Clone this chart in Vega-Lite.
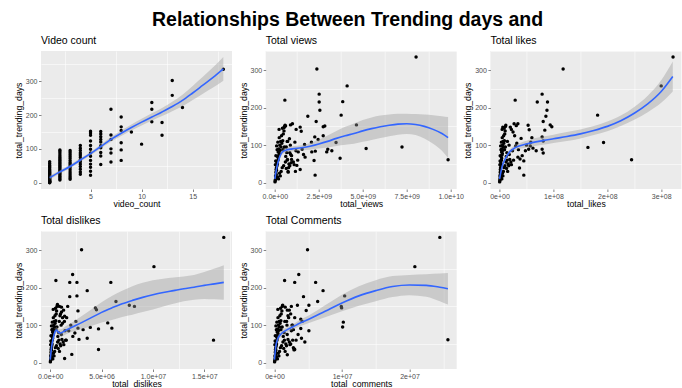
{
"$schema": "https://vega.github.io/schema/vega-lite/v6.json",
"background": "white",
"padding": {"left": 14, "top": 10, "right": 5, "bottom": 5},
"title": {"text": "Relationships Between Trending days and", "fontSize": 19.5, "fontWeight": "bold", "anchor": "start", "frame": "group", "dx": 111, "offset": 5, "font": "Liberation Sans", "color": "black"},
"columns": 3,
"spacing": {"row": 42, "column": 33.7},
"bounds": "flush",
"datasets": {
"p1": [
{"x":1,"y":0},{"x":1,"y":1},{"x":1,"y":2},{"x":1,"y":3},{"x":1,"y":4},{"x":1,"y":5},{"x":1,"y":6},{"x":1,"y":8},{"x":1,"y":10},{"x":1,"y":12},{"x":1,"y":14},{"x":1,"y":16},{"x":1,"y":18},{"x":1,"y":20},{"x":1,"y":22},{"x":1,"y":25},{"x":1,"y":28},{"x":1,"y":30},{"x":1,"y":33},{"x":1,"y":36},{"x":1,"y":40},{"x":1,"y":44},{"x":1,"y":48},{"x":1,"y":52},{"x":1,"y":57},{"x":1,"y":62},
{"x":2,"y":8},{"x":2,"y":12},{"x":2,"y":16},{"x":2,"y":20},{"x":2,"y":24},{"x":2,"y":28},{"x":2,"y":32},{"x":2,"y":36},{"x":2,"y":40},{"x":2,"y":44},{"x":2,"y":48},{"x":2,"y":52},{"x":2,"y":56},{"x":2,"y":60},{"x":2,"y":64},{"x":2,"y":68},{"x":2,"y":72},{"x":2,"y":77},{"x":2,"y":82},{"x":2,"y":88},{"x":2,"y":93},{"x":2,"y":97},
{"x":3,"y":10},{"x":3,"y":15},{"x":3,"y":20},{"x":3,"y":26},{"x":3,"y":32},{"x":3,"y":38},{"x":3,"y":44},{"x":3,"y":50},{"x":3,"y":55},{"x":3,"y":60},{"x":3,"y":66},{"x":3,"y":72},{"x":3,"y":78},{"x":3,"y":84},{"x":3,"y":90},{"x":3,"y":95},
{"x":4,"y":25},{"x":4,"y":32},{"x":4,"y":40},{"x":4,"y":48},{"x":4,"y":55},{"x":4,"y":62},{"x":4,"y":68},{"x":4,"y":75},{"x":4,"y":82},{"x":4,"y":88},{"x":4,"y":95},{"x":4,"y":102},{"x":4,"y":110},
{"x":5,"y":22},{"x":5,"y":34},{"x":5,"y":46},{"x":5,"y":55},{"x":5,"y":66},{"x":5,"y":78},{"x":5,"y":88},{"x":5,"y":99},{"x":5,"y":110},{"x":5,"y":123},{"x":5,"y":140},{"x":5,"y":147},{"x":5,"y":152},
{"x":6,"y":54},{"x":6,"y":79},{"x":6,"y":89},{"x":6,"y":103},{"x":6,"y":109},{"x":6,"y":120},{"x":6,"y":128},{"x":6,"y":136},{"x":6,"y":144},{"x":6,"y":151},
{"x":7,"y":61},{"x":7,"y":88},{"x":7,"y":100},{"x":7,"y":128},{"x":7,"y":141},{"x":7,"y":217},
{"x":8,"y":66},{"x":8,"y":97},{"x":8,"y":118},{"x":8,"y":154},{"x":8,"y":165},{"x":8,"y":194},
{"x":9,"y":150},{"x":10,"y":114},{"x":11,"y":180},{"x":11,"y":217},{"x":11,"y":237},{"x":12,"y":140},{"x":12,"y":178},{"x":13,"y":258},{"x":13,"y":302},{"x":14,"y":222},{"x":18,"y":335}
],
"s1": [
{"x":1,"fit":15,"lo":9,"hi":21},{"x":2,"fit":32,"lo":27,"hi":37},{"x":3,"fit":48,"lo":43,"hi":53},{"x":4,"fit":67,"lo":62,"hi":72},{"x":5,"fit":86,"lo":81,"hi":91},{"x":6,"fit":107,"lo":101,"hi":113},{"x":7,"fit":128,"lo":121,"hi":135},{"x":8,"fit":146,"lo":138,"hi":154},{"x":9,"fit":163,"lo":154,"hi":172},{"x":10,"fit":179,"lo":169,"hi":189},{"x":11,"fit":194,"lo":183,"hi":205},{"x":12,"fit":209,"lo":197,"hi":221},{"x":13,"fit":225,"lo":211,"hi":239},{"x":14,"fit":243,"lo":226,"hi":260},{"x":15,"fit":265,"lo":244,"hi":286},{"x":16,"fit":288,"lo":263,"hi":313},{"x":17,"fit":311,"lo":281,"hi":341},{"x":18,"fit":336,"lo":301,"hi":371}
],
"p2": [
{"x":0.1e8,"y":2},{"x":0.2e8,"y":5},{"x":0.3e8,"y":8},{"x":0.5e8,"y":12},{"x":0.4e8,"y":18},{"x":0.8e8,"y":22},{"x":0.6e8,"y":28},{"x":1.0e8,"y":33},{"x":0.9e8,"y":40},{"x":1.2e8,"y":45},{"x":1.5e8,"y":50},{"x":1.1e8,"y":55},{"x":1.8e8,"y":60},{"x":2.0e8,"y":65},{"x":1.4e8,"y":70},{"x":2.3e8,"y":74},{"x":2.6e8,"y":78},{"x":1.9e8,"y":82},{"x":3.0e8,"y":86},{"x":2.2e8,"y":90},{"x":3.5e8,"y":95},{"x":2.8e8,"y":100},{"x":4.0e8,"y":105},{"x":3.3e8,"y":110},{"x":4.5e8,"y":112},{"x":1.7e8,"y":108},{"x":2.5e8,"y":120},{"x":3.8e8,"y":125},{"x":4.8e8,"y":130},{"x":5.2e8,"y":138},{"x":4.3e8,"y":145},{"x":5.5e8,"y":150},{"x":5.8e8,"y":153},{"x":0.7e8,"y":35},{"x":1.6e8,"y":15},{"x":2.7e8,"y":25},{"x":3.6e8,"y":30},{"x":4.2e8,"y":40},{"x":5.0e8,"y":45},{"x":6.0e8,"y":55},{"x":6.5e8,"y":38},{"x":7.0e8,"y":60},{"x":7.5e8,"y":30},{"x":8.0e8,"y":50},{"x":3.1e8,"y":18},{"x":2.1e8,"y":10},{"x":0.3e8,"y":48},{"x":0.5e8,"y":58},{"x":0.6e8,"y":72},{"x":1.3e8,"y":88},{"x":1.0e8,"y":98},{"x":2.4e8,"y":142},{"x":6.2e8,"y":70},{"x":6.8e8,"y":80},{"x":4.6e8,"y":88},{"x":5.4e8,"y":95},{"x":7.3e8,"y":110},{"x":8.5e8,"y":45},{"x":9.0e8,"y":75},{"x":9.5e8,"y":62},{"x":10.5e8,"y":55},{"x":11e8,"y":48},{"x":12e8,"y":85},{"x":13e8,"y":60},{"x":8.8e8,"y":100},{"x":6.5e8,"y":95},{"x":7.2e8,"y":62},{"x":8.5e8,"y":80},{"x":9.5e8,"y":72},{"x":7.0e8,"y":110},{"x":7.8e8,"y":40},
{"x":8.03e9,"y":335},{"x":2.39e9,"y":303},{"x":2.52e9,"y":236},{"x":2.52e9,"y":215},{"x":2.56e9,"y":193},{"x":4.11e9,"y":258},{"x":3.86e9,"y":216},{"x":3.77e9,"y":180},{"x":0.57e9,"y":220},{"x":1.875e9,"y":177},{"x":2.35e9,"y":163},{"x":2.75e9,"y":149},{"x":2.84e9,"y":151},{"x":4.64e9,"y":154},{"x":3.71e9,"y":65},{"x":5.19e9,"y":91},{"x":7.23e9,"y":95},{"x":9.85e9,"y":61},{"x":2.29e9,"y":20},{"x":2.23e9,"y":59},{"x":3.48e9,"y":107},{"x":3.24e9,"y":85},{"x":2.95e9,"y":82},{"x":3.01e9,"y":89},{"x":1.44e9,"y":148},{"x":1.5e9,"y":137},{"x":1.21e9,"y":142},{"x":1.0e9,"y":157},{"x":0.89e9,"y":154},{"x":0.61e9,"y":151},{"x":0.53e9,"y":147},{"x":0.83e9,"y":117},{"x":1.69e9,"y":102},{"x":1.14e9,"y":108},{"x":1.55e9,"y":89},{"x":1.33e9,"y":82},{"x":1.63e9,"y":75},{"x":1.72e9,"y":68},{"x":1.25e9,"y":46},{"x":1.44e9,"y":35},{"x":1.17e9,"y":30},{"x":0.93e9,"y":53},{"x":0.76e9,"y":28},{"x":2.27e9,"y":122},{"x":2.08e9,"y":108},{"x":2.1e9,"y":82},{"x":2.3e9,"y":84},{"x":2.75e9,"y":125},{"x":2.46e9,"y":115}
],
"s2": [
{"x":0,"fit":10,"lo":4,"hi":16},{"x":0.1e9,"fit":38,"lo":32,"hi":44},{"x":0.25e9,"fit":65,"lo":59,"hi":71},{"x":0.4e9,"fit":80,"lo":74,"hi":86},{"x":0.6e9,"fit":86,"lo":80,"hi":92},{"x":1.0e9,"fit":90,"lo":83,"hi":97},{"x":1.5e9,"fit":93,"lo":86,"hi":100},{"x":2.0e9,"fit":97,"lo":88,"hi":106},{"x":2.5e9,"fit":103,"lo":91,"hi":115},{"x":3.0e9,"fit":110,"lo":94,"hi":126},{"x":3.5e9,"fit":118,"lo":98,"hi":138},{"x":4.0e9,"fit":125,"lo":101,"hi":149},{"x":4.5e9,"fit":131,"lo":104,"hi":158},{"x":5.0e9,"fit":138,"lo":109,"hi":167},{"x":5.5e9,"fit":144,"lo":114,"hi":174},{"x":6.0e9,"fit":149,"lo":119,"hi":179},{"x":6.5e9,"fit":153,"lo":124,"hi":182},{"x":7.0e9,"fit":156,"lo":128,"hi":184},{"x":7.5e9,"fit":157,"lo":130,"hi":184},{"x":8.0e9,"fit":155,"lo":127,"hi":183},{"x":8.5e9,"fit":150,"lo":118,"hi":182},{"x":9.0e9,"fit":142,"lo":104,"hi":180},{"x":9.5e9,"fit":131,"lo":85,"hi":177},{"x":9.85e9,"fit":120,"lo":66,"hi":175}
],
"p3": [
{"x":0.2e6,"y":2},{"x":0.5e6,"y":5},{"x":0.8e6,"y":8},{"x":1e6,"y":12},{"x":0.7e6,"y":18},{"x":1.5e6,"y":22},{"x":1.2e6,"y":28},{"x":2e6,"y":33},{"x":1.8e6,"y":40},{"x":2.5e6,"y":45},{"x":3e6,"y":50},{"x":2.2e6,"y":55},{"x":3.5e6,"y":60},{"x":4e6,"y":65},{"x":2.8e6,"y":70},{"x":4.6e6,"y":74},{"x":5.2e6,"y":78},{"x":3.8e6,"y":82},{"x":6e6,"y":86},{"x":4.4e6,"y":90},{"x":7e6,"y":95},{"x":5.6e6,"y":100},{"x":8e6,"y":105},{"x":6.6e6,"y":110},{"x":9e6,"y":112},{"x":3.4e6,"y":108},{"x":5e6,"y":120},{"x":7.6e6,"y":125},{"x":9.6e6,"y":130},{"x":10.4e6,"y":138},{"x":8.6e6,"y":145},{"x":11e6,"y":150},{"x":11.6e6,"y":153},{"x":1.4e6,"y":35},{"x":3.2e6,"y":15},{"x":5.4e6,"y":25},{"x":7.2e6,"y":30},{"x":8.4e6,"y":40},{"x":10e6,"y":45},{"x":12e6,"y":55},{"x":13e6,"y":38},{"x":14e6,"y":60},{"x":15e6,"y":30},{"x":16e6,"y":50},{"x":6.2e6,"y":18},{"x":4.2e6,"y":10},{"x":0.6e6,"y":48},{"x":1e6,"y":58},{"x":1.2e6,"y":72},{"x":2.6e6,"y":88},{"x":2e6,"y":98},{"x":4.8e6,"y":142},{"x":12.4e6,"y":70},{"x":13.6e6,"y":80},{"x":9.2e6,"y":88},{"x":10.8e6,"y":95},{"x":14.6e6,"y":110},{"x":17e6,"y":45},{"x":18e6,"y":75},{"x":19e6,"y":62},{"x":21e6,"y":55},{"x":22e6,"y":48},{"x":24e6,"y":85},{"x":26e6,"y":60},{"x":17.6e6,"y":100},
{"x":3.22e8,"y":335},{"x":3.0e8,"y":258},{"x":1.18e8,"y":303},{"x":0.79e8,"y":236},{"x":0.70e8,"y":215},{"x":0.89e8,"y":215},{"x":0.88e8,"y":193},{"x":0.86e8,"y":177},{"x":0.81e8,"y":163},{"x":1.82e8,"y":180},{"x":1.93e8,"y":107},{"x":1.64e8,"y":94},{"x":2.45e8,"y":61},{"x":0.29e8,"y":220},{"x":0.94e8,"y":154},{"x":0.97e8,"y":149},{"x":0.84e8,"y":140},{"x":0.79e8,"y":122},{"x":0.81e8,"y":111},{"x":0.68e8,"y":85},{"x":0.79e8,"y":89},{"x":0.81e8,"y":79},{"x":0.58e8,"y":108},{"x":0.57e8,"y":98},{"x":0.54e8,"y":89},{"x":0.45e8,"y":20},{"x":0.37e8,"y":39},{"x":0.53e8,"y":153},{"x":0.55e8,"y":141},{"x":0.27e8,"y":157},{"x":0.34e8,"y":157},{"x":0.2e8,"y":148},{"x":0.06e8,"y":148},{"x":0.3e8,"y":98},{"x":0.34e8,"y":68},{"x":0.38e8,"y":63},{"x":0.42e8,"y":72},{"x":0.45e8,"y":58},{"x":0.35e8,"y":88},{"x":0.32e8,"y":105},{"x":0.4e8,"y":118},{"x":0.28e8,"y":125},{"x":0.25e8,"y":135},{"x":0.22e8,"y":142},{"x":0.31e8,"y":152},{"x":0.6e8,"y":120},{"x":0.5e8,"y":100},{"x":0.48e8,"y":85},{"x":0.62e8,"y":92}
],
"s3": [
{"x":0,"fit":10,"lo":4,"hi":16},{"x":0.05e8,"fit":44,"lo":38,"hi":50},{"x":0.1e8,"fit":62,"lo":56,"hi":68},{"x":0.2e8,"fit":84,"lo":78,"hi":90},{"x":0.3e8,"fit":94,"lo":87,"hi":101},{"x":0.5e8,"fit":103,"lo":94,"hi":112},{"x":0.8e8,"fit":112,"lo":101,"hi":123},{"x":1.0e8,"fit":117,"lo":106,"hi":128},{"x":1.25e8,"fit":123,"lo":111,"hi":135},{"x":1.5e8,"fit":130,"lo":118,"hi":142},{"x":1.75e8,"fit":139,"lo":127,"hi":151},{"x":2.0e8,"fit":150,"lo":137,"hi":163},{"x":2.25e8,"fit":165,"lo":151,"hi":179},{"x":2.5e8,"fit":185,"lo":168,"hi":202},{"x":2.75e8,"fit":210,"lo":188,"hi":232},{"x":3.0e8,"fit":243,"lo":213,"hi":273},{"x":3.215e8,"fit":283,"lo":243,"hi":323}
],
"p4": [
{"x":0.1e5,"y":2},{"x":0.3e5,"y":5},{"x":0.5e5,"y":8},{"x":0.6e5,"y":12},{"x":0.4e5,"y":18},{"x":0.9e5,"y":22},{"x":0.7e5,"y":28},{"x":1.2e5,"y":33},{"x":1.1e5,"y":40},{"x":1.5e5,"y":45},{"x":1.8e5,"y":50},{"x":1.3e5,"y":55},{"x":2.1e5,"y":60},{"x":2.4e5,"y":65},{"x":1.7e5,"y":70},{"x":2.8e5,"y":74},{"x":3.1e5,"y":78},{"x":2.3e5,"y":82},{"x":3.6e5,"y":86},{"x":2.6e5,"y":90},{"x":4.2e5,"y":95},{"x":3.4e5,"y":100},{"x":4.8e5,"y":105},{"x":4.0e5,"y":110},{"x":5.4e5,"y":112},{"x":2e5,"y":108},{"x":3e5,"y":120},{"x":4.6e5,"y":125},{"x":5.8e5,"y":130},{"x":6.2e5,"y":138},{"x":5.2e5,"y":145},{"x":6.6e5,"y":150},{"x":7e5,"y":153},{"x":0.8e5,"y":35},{"x":1.9e5,"y":15},{"x":3.2e5,"y":25},{"x":4.3e5,"y":30},{"x":5e5,"y":40},{"x":6e5,"y":45},{"x":7.2e5,"y":55},{"x":7.8e5,"y":38},{"x":8.4e5,"y":60},{"x":9e5,"y":30},{"x":9.6e5,"y":50},{"x":3.7e5,"y":18},{"x":2.5e5,"y":10},{"x":0.4e5,"y":48},{"x":0.6e5,"y":58},{"x":0.7e5,"y":72},{"x":1.6e5,"y":88},{"x":1.2e5,"y":98},{"x":2.9e5,"y":142},{"x":7.4e5,"y":70},{"x":8.2e5,"y":80},{"x":5.5e5,"y":88},{"x":6.5e5,"y":95},{"x":8.8e5,"y":110},{"x":10.2e5,"y":45},{"x":10.8e5,"y":75},{"x":11.4e5,"y":62},{"x":12.6e5,"y":55},{"x":13.2e5,"y":48},{"x":14.4e5,"y":85},{"x":15.6e5,"y":60},{"x":10.6e5,"y":100},{"x":12e5,"y":120},{"x":13.8e5,"y":110},{"x":11e5,"y":135},{"x":9.5e5,"y":125},
{"x":16.9e6,"y":334},{"x":15.9e6,"y":60},{"x":10.1e6,"y":256},{"x":3.05e6,"y":301},{"x":0.55e6,"y":219},{"x":2.18e6,"y":235},{"x":1.9e6,"y":214},{"x":2.6e6,"y":214},{"x":1.9e6,"y":176},{"x":2.6e6,"y":178},{"x":3.6e6,"y":192},{"x":5.9e6,"y":214},{"x":6.4e6,"y":163},{"x":7.7e6,"y":153},{"x":8.2e6,"y":150},{"x":4.4e6,"y":146},{"x":4.5e6,"y":141},{"x":5.6e6,"y":106},{"x":6.0e6,"y":92},{"x":4.7e6,"y":90},{"x":4.7e6,"y":35},{"x":3.9e6,"y":94},{"x":3.6e6,"y":65},{"x":2.8e6,"y":62},{"x":2.1e6,"y":22},{"x":1.4e6,"y":11},{"x":2.4e6,"y":79},{"x":2.7e6,"y":92},{"x":1.7e6,"y":150},{"x":1.4e6,"y":124},{"x":2.7e6,"y":138},{"x":1.1e6,"y":148},{"x":1.6e6,"y":120},{"x":2.0e6,"y":100},{"x":1.2e6,"y":105},{"x":1.8e6,"y":85},{"x":2.2e6,"y":70},{"x":1.5e6,"y":60},{"x":3.2e6,"y":88},{"x":2.5e6,"y":110},{"x":1.3e6,"y":140},{"x":0.9e6,"y":150},{"x":0.7e6,"y":155},{"x":1.0e6,"y":130}
],
"s4": [
{"x":0,"fit":8,"lo":0,"hi":16},{"x":0.15e6,"fit":45,"lo":37,"hi":53},{"x":0.3e6,"fit":66,"lo":58,"hi":74},{"x":0.5e6,"fit":84,"lo":76,"hi":92},{"x":0.6e6,"fit":87,"lo":79,"hi":95},{"x":0.8e6,"fit":81,"lo":72,"hi":90},{"x":1.0e6,"fit":79,"lo":69,"hi":89},{"x":1.5e6,"fit":86,"lo":75,"hi":97},{"x":2.0e6,"fit":93,"lo":81,"hi":105},{"x":3.0e6,"fit":106,"lo":89,"hi":123},{"x":4.0e6,"fit":120,"lo":98,"hi":142},{"x":5.0e6,"fit":134,"lo":107,"hi":161},{"x":6.0e6,"fit":146,"lo":114,"hi":178},{"x":7.0e6,"fit":157,"lo":122,"hi":192},{"x":8.0e6,"fit":166,"lo":128,"hi":204},{"x":9.0e6,"fit":174,"lo":135,"hi":213},{"x":10.0e6,"fit":181,"lo":142,"hi":220},{"x":11e6,"fit":187,"lo":150,"hi":224},{"x":12e6,"fit":192,"lo":157,"hi":227},{"x":13e6,"fit":197,"lo":164,"hi":230},{"x":14e6,"fit":201,"lo":168,"hi":234},{"x":15e6,"fit":206,"lo":170,"hi":242},{"x":16e6,"fit":210,"lo":169,"hi":251},{"x":16.9e6,"fit":214,"lo":168,"hi":260}
],
"p5": [
{"x":0.2e5,"y":2},{"x":0.5e5,"y":5},{"x":0.8e5,"y":8},{"x":1e5,"y":12},{"x":0.7e5,"y":18},{"x":1.6e5,"y":22},{"x":1.2e5,"y":28},{"x":2.1e5,"y":33},{"x":1.9e5,"y":40},{"x":2.6e5,"y":45},{"x":3.1e5,"y":50},{"x":2.3e5,"y":55},{"x":3.7e5,"y":60},{"x":4.2e5,"y":65},{"x":2.9e5,"y":70},{"x":4.9e5,"y":74},{"x":5.4e5,"y":78},{"x":4e5,"y":82},{"x":6.3e5,"y":86},{"x":4.6e5,"y":90},{"x":7.4e5,"y":95},{"x":5.9e5,"y":100},{"x":8.4e5,"y":105},{"x":7e5,"y":110},{"x":9.5e5,"y":112},{"x":3.5e5,"y":108},{"x":5.2e5,"y":120},{"x":8e5,"y":125},{"x":10e5,"y":130},{"x":11e5,"y":138},{"x":9.1e5,"y":145},{"x":11.6e5,"y":150},{"x":12.2e5,"y":153},{"x":1.4e5,"y":35},{"x":3.3e5,"y":15},{"x":5.6e5,"y":25},{"x":7.5e5,"y":30},{"x":8.8e5,"y":40},{"x":10.5e5,"y":45},{"x":12.6e5,"y":55},{"x":13.7e5,"y":38},{"x":14.7e5,"y":60},{"x":15.8e5,"y":30},{"x":16.8e5,"y":50},{"x":6.5e5,"y":18},{"x":4.4e5,"y":10},{"x":0.6e5,"y":48},{"x":1e5,"y":58},{"x":1.2e5,"y":72},{"x":2.8e5,"y":88},{"x":2.1e5,"y":98},{"x":5e5,"y":142},{"x":13e5,"y":70},{"x":14.3e5,"y":80},{"x":9.6e5,"y":88},{"x":11.4e5,"y":95},{"x":15.3e5,"y":110},{"x":17.8e5,"y":45},{"x":18.9e5,"y":75},{"x":20e5,"y":62},{"x":22e5,"y":55},{"x":23e5,"y":48},{"x":25e5,"y":85},{"x":27e5,"y":60},{"x":18.5e5,"y":100},{"x":21e5,"y":120},{"x":24e5,"y":130},{"x":19e5,"y":140},{"x":26e5,"y":100},{"x":28e5,"y":40},{"x":30e5,"y":35},
{"x":2.45e7,"y":334},{"x":2.57e7,"y":61},{"x":2.08e7,"y":256},{"x":0.49e7,"y":301},{"x":0.15e7,"y":219},{"x":0.36e7,"y":235},{"x":0.30e7,"y":214},{"x":0.61e7,"y":214},{"x":0.72e7,"y":192},{"x":0.43e7,"y":176},{"x":0.64e7,"y":163},{"x":0.51e7,"y":153},{"x":0.34e7,"y":153},{"x":0.47e7,"y":139},{"x":1.04e7,"y":178},{"x":0.99e7,"y":150},{"x":0.995e7,"y":146},{"x":1.02e7,"y":108},{"x":1.01e7,"y":95},{"x":0.51e7,"y":85},{"x":0.39e7,"y":116},{"x":0.41e7,"y":110},{"x":0.39e7,"y":91},{"x":0.29e7,"y":37},{"x":0.29e7,"y":34},{"x":0.19e7,"y":21},{"x":0.25e7,"y":150},{"x":0.22e7,"y":140},{"x":0.2e7,"y":125},{"x":0.3e7,"y":120},{"x":0.27e7,"y":100},{"x":0.35e7,"y":75},{"x":0.32e7,"y":60},{"x":0.24e7,"y":50},{"x":0.4e7,"y":65},{"x":0.45e7,"y":55},{"x":0.18e7,"y":110},{"x":0.16e7,"y":148},{"x":0.12e7,"y":152},{"x":0.28e7,"y":88}
],
"s5": [
{"x":0,"fit":8,"lo":0,"hi":16},{"x":0.2e6,"fit":44,"lo":36,"hi":52},{"x":0.45e6,"fit":62,"lo":55,"hi":69},{"x":0.9e6,"fit":75,"lo":68,"hi":82},{"x":1.7e6,"fit":86,"lo":79,"hi":93},{"x":2.7e6,"fit":95,"lo":88,"hi":102},{"x":3.5e6,"fit":103,"lo":95,"hi":111},{"x":5.0e6,"fit":115,"lo":105,"hi":125},{"x":7.5e6,"fit":137,"lo":121,"hi":153},{"x":10e6,"fit":159,"lo":137,"hi":181},{"x":12.5e6,"fit":178,"lo":152,"hi":204},{"x":15e6,"fit":192,"lo":164,"hi":220},{"x":17.5e6,"fit":203,"lo":175,"hi":231},{"x":20e6,"fit":207,"lo":180,"hi":234},{"x":22.5e6,"fit":206,"lo":176,"hi":236},{"x":24.5e6,"fit":201,"lo":164,"hi":238},{"x":25.7e6,"fit":197,"lo":155,"hi":239}
]
},
"concat": [
{
"title": "Video count", "width": 191, "height": 138,
"resolve": {"axis": {"x": "independent", "y": "independent"}},
"layer": [
{"data": {"name": "p1"}, "mark": {"type": "point", "filled": true, "color": "black", "size": 12, "opacity": 1},
 "encoding": {"x": {"field": "x", "type": "quantitative", "scale": {"domain": [0.15, 18.85], "nice": false, "zero": false}, "axis": null},
  "y": {"field": "y", "type": "quantitative", "scale": {"domain": [-18.5, 389], "nice": false, "zero": false}, "axis": null}}},
{"data": {"name": "s1"}, "mark": {"type": "area", "color": "#999999", "opacity": 0.4, "interpolate": "monotone"},
 "encoding": {"x": {"field": "x", "type": "quantitative", "axis": {"orient": "bottom", "values": [2.5, 7.5, 12.5, 17.5], "grid": true, "gridWidth": 0.55, "ticks": false, "labels": false, "domain": false, "title": null}},
  "y": {"field": "lo", "type": "quantitative", "axis": {"orient": "left", "values": [50, 150, 250, 350], "grid": true, "gridWidth": 0.55, "ticks": false, "labels": false, "domain": false, "title": null}},
  "y2": {"field": "hi"}}},
{"data": {"name": "s1"}, "mark": {"type": "line", "color": "#3366FF", "strokeWidth": 1.6, "interpolate": "monotone"},
 "encoding": {"x": {"field": "x", "type": "quantitative", "axis": {"orient": "bottom", "values": [5, 10, 15], "title": "video_count"}},
  "y": {"field": "fit", "type": "quantitative", "axis": {"orient": "left", "values": [0, 100, 200, 300], "title": "total_trending_days"}}}}
]
},
{
"title": "Total views", "width": 191, "height": 138,
"resolve": {"axis": {"x": "independent", "y": "independent"}},
"layer": [
{"data": {"name": "p2"}, "mark": {"type": "point", "filled": true, "color": "black", "size": 12, "opacity": 1},
 "encoding": {"x": {"field": "x", "type": "quantitative", "scale": {"domain": [-0.52e9, 10.34e9], "nice": false, "zero": false}, "axis": null},
  "y": {"field": "y", "type": "quantitative", "scale": {"domain": [-17, 351], "nice": false, "zero": false}, "axis": null}}},
{"data": {"name": "s2"}, "mark": {"type": "area", "color": "#999999", "opacity": 0.4, "interpolate": "monotone"},
 "encoding": {"x": {"field": "x", "type": "quantitative", "axis": {"orient": "bottom", "values": [1.25e9, 3.75e9, 6.25e9, 8.75e9], "grid": true, "gridWidth": 0.55, "ticks": false, "labels": false, "domain": false, "title": null}},
  "y": {"field": "lo", "type": "quantitative", "axis": {"orient": "left", "values": [50, 150, 250, 350], "grid": true, "gridWidth": 0.55, "ticks": false, "labels": false, "domain": false, "title": null}},
  "y2": {"field": "hi"}}},
{"data": {"name": "s2"}, "mark": {"type": "line", "color": "#3366FF", "strokeWidth": 1.6, "interpolate": "monotone"},
 "encoding": {"x": {"field": "x", "type": "quantitative", "axis": {"orient": "bottom", "values": [0, 2.5e9, 5e9, 7.5e9, 1e10], "labelExpr": "replace(format(datum.value, '.1e'), regexp('e[+]([0-9])$'), 'e+0$1')", "title": "total_views"}},
  "y": {"field": "fit", "type": "quantitative", "axis": {"orient": "left", "values": [0, 100, 200, 300], "title": "total_trending_days"}}}}
]
},
{
"title": "Total likes", "width": 191, "height": 138,
"resolve": {"axis": {"x": "independent", "y": "independent"}},
"layer": [
{"data": {"name": "p3"}, "mark": {"type": "point", "filled": true, "color": "black", "size": 12, "opacity": 1},
 "encoding": {"x": {"field": "x", "type": "quantitative", "scale": {"domain": [-1.7e7, 3.375e8], "nice": false, "zero": false}, "axis": null},
  "y": {"field": "y", "type": "quantitative", "scale": {"domain": [-17, 351], "nice": false, "zero": false}, "axis": null}}},
{"data": {"name": "s3"}, "mark": {"type": "area", "color": "#999999", "opacity": 0.4, "interpolate": "monotone"},
 "encoding": {"x": {"field": "x", "type": "quantitative", "axis": {"orient": "bottom", "values": [0.5e8, 1.5e8, 2.5e8], "grid": true, "gridWidth": 0.55, "ticks": false, "labels": false, "domain": false, "title": null}},
  "y": {"field": "lo", "type": "quantitative", "axis": {"orient": "left", "values": [50, 150, 250, 350], "grid": true, "gridWidth": 0.55, "ticks": false, "labels": false, "domain": false, "title": null}},
  "y2": {"field": "hi"}}},
{"data": {"name": "s3"}, "mark": {"type": "line", "color": "#3366FF", "strokeWidth": 1.6, "interpolate": "monotone"},
 "encoding": {"x": {"field": "x", "type": "quantitative", "axis": {"orient": "bottom", "values": [0, 1e8, 2e8, 3e8], "labelExpr": "replace(format(datum.value, '.0e'), regexp('e[+]([0-9])$'), 'e+0$1')", "title": "total_likes"}},
  "y": {"field": "fit", "type": "quantitative", "axis": {"orient": "left", "values": [0, 100, 200, 300], "title": "total_trending_days"}}}}
]
},
{
"title": "Total dislikes", "width": 191, "height": 138,
"resolve": {"axis": {"x": "independent", "y": "independent"}},
"layer": [
{"data": {"name": "p4"}, "mark": {"type": "point", "filled": true, "color": "black", "size": 12, "opacity": 1},
 "encoding": {"x": {"field": "x", "type": "quantitative", "scale": {"domain": [-0.9e6, 17.7e6], "nice": false, "zero": false}, "axis": null},
  "y": {"field": "y", "type": "quantitative", "scale": {"domain": [-17, 351], "nice": false, "zero": false}, "axis": null}}},
{"data": {"name": "s4"}, "mark": {"type": "area", "color": "#999999", "opacity": 0.4, "interpolate": "monotone"},
 "encoding": {"x": {"field": "x", "type": "quantitative", "axis": {"orient": "bottom", "values": [2.5e6, 7.5e6, 12.5e6, 17.5e6], "grid": true, "gridWidth": 0.55, "ticks": false, "labels": false, "domain": false, "title": null}},
  "y": {"field": "lo", "type": "quantitative", "axis": {"orient": "left", "values": [50, 150, 250, 350], "grid": true, "gridWidth": 0.55, "ticks": false, "labels": false, "domain": false, "title": null}},
  "y2": {"field": "hi"}}},
{"data": {"name": "s4"}, "mark": {"type": "line", "color": "#3366FF", "strokeWidth": 1.6, "interpolate": "monotone"},
 "encoding": {"x": {"field": "x", "type": "quantitative", "axis": {"orient": "bottom", "values": [0, 5e6, 1e7, 1.5e7], "labelExpr": "replace(format(datum.value, '.1e'), regexp('e[+]([0-9])$'), 'e+0$1')", "title": "total_dislikes"}},
  "y": {"field": "fit", "type": "quantitative", "axis": {"orient": "left", "values": [0, 100, 200, 300], "title": "total_trending_days"}}}}
]
},
{
"title": "Total Comments", "width": 191, "height": 138,
"resolve": {"axis": {"x": "independent", "y": "independent"}},
"layer": [
{"data": {"name": "p5"}, "mark": {"type": "point", "filled": true, "color": "black", "size": 12, "opacity": 1},
 "encoding": {"x": {"field": "x", "type": "quantitative", "scale": {"domain": [-1.3e6, 27e6], "nice": false, "zero": false}, "axis": null},
  "y": {"field": "y", "type": "quantitative", "scale": {"domain": [-17, 351], "nice": false, "zero": false}, "axis": null}}},
{"data": {"name": "s5"}, "mark": {"type": "area", "color": "#999999", "opacity": 0.4, "interpolate": "monotone"},
 "encoding": {"x": {"field": "x", "type": "quantitative", "axis": {"orient": "bottom", "values": [0.5e7, 1.5e7, 2.5e7], "grid": true, "gridWidth": 0.55, "ticks": false, "labels": false, "domain": false, "title": null}},
  "y": {"field": "lo", "type": "quantitative", "axis": {"orient": "left", "values": [50, 150, 250, 350], "grid": true, "gridWidth": 0.55, "ticks": false, "labels": false, "domain": false, "title": null}},
  "y2": {"field": "hi"}}},
{"data": {"name": "s5"}, "mark": {"type": "line", "color": "#3366FF", "strokeWidth": 1.6, "interpolate": "monotone"},
 "encoding": {"x": {"field": "x", "type": "quantitative", "axis": {"orient": "bottom", "values": [0, 1e7, 2e7], "labelExpr": "replace(format(datum.value, '.0e'), regexp('e[+]([0-9])$'), 'e+0$1')", "title": "total_comments"}},
  "y": {"field": "fit", "type": "quantitative", "axis": {"orient": "left", "values": [0, 100, 200, 300], "title": "total_trending_days"}}}}
]
}
],
"config": {
"font": "Liberation Sans",
"view": {"fill": "#EBEBEB", "stroke": null},
"title": {"font": "Liberation Sans", "fontSize": 10.5, "fontWeight": "normal", "anchor": "start", "frame": "group", "offset": 5, "color": "black"},
"axis": {"labelFont": "Liberation Sans", "labelFontSize": 7, "labelColor": "#4D4D4D", "tickColor": "#333333", "tickSize": 2.5, "tickWidth": 0.6, "domain": false, "grid": true, "gridColor": "white", "gridWidth": 1.1, "titleFont": "Liberation Sans", "titleFontSize": 8.7, "titleFontWeight": "normal", "titleColor": "black", "titlePadding": 0.5, "labelFlush": false, "labelOverlap": false},
"axisX": {"labelPadding": 0.5},
"axisY": {"labelPadding": 1.5, "titlePadding": 2}
}
}
